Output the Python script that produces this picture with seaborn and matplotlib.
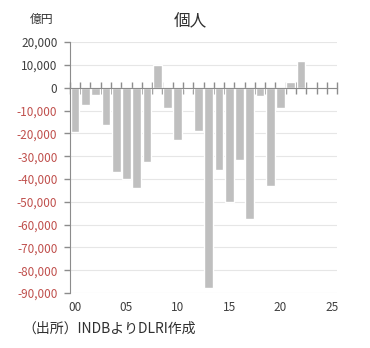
import numpy as np
import pandas as pd
import matplotlib
matplotlib.use("Agg")
import matplotlib.pyplot as plt
import seaborn as sns

# ---- data ----
years = list(range(2000, 2026))
values = [-19500, -7500, -3100, -16500, -36800, -40000, -43800, -32500,
          9800, -8800, -22700, -400, -18800, -88000, -36000, -50000,
          -31500, -57500, -3600, -43000, -8800, 2700, 11900,
          np.nan, np.nan, np.nan]
xtick_years = [0, 5, 10, 15, 20, 25]
xtick_labels = ["00", "05", "10", "15", "20", "25"]
yticks = list(range(-90000, 20001, 10000))
title = "個人"
unit = "億円"
source = "（出所）INDBよりDLRI作成"

sns.set_style("white")
plt.rcParams["font.family"] = ["Noto Sans CJK JP", "DejaVu Sans"]

df = pd.DataFrame({"year": years, "value": values})

fig = plt.figure(figsize=(3.7, 3.48), dpi=100)
ax = fig.add_axes([0.189, 0.158, 0.722, 0.721])

sns.barplot(data=df, x="year", y="value", order=years, color="#BFBFBF",
            saturation=1, width=0.85, errorbar=None, ax=ax, zorder=2)

axis_grey = "#8C8C8C"
ax.set_xlim(-0.5, len(years) - 0.5)
ax.set_ylim(-90000, 20000)
ax.set_xlabel("")
ax.set_ylabel("")

# y axis
ax.set_yticks(yticks)
ax.set_yticklabels([f"{v:,}" for v in yticks])
for lab, v in zip(ax.get_yticklabels(), yticks):
    lab.set_color("#C0504D" if v < 0 else "#404040")
ax.tick_params(axis="y", left=True, direction="out", length=4, width=1,
               color=axis_grey, labelsize=8.5, pad=5)
ax.yaxis.grid(True, color="#E6E6E6", lw=0.8)
ax.set_axisbelow(True)

# zero line with crossing category-boundary ticks
ax.spines["bottom"].set_position(("data", 0))
ax.spines["bottom"].set_color(axis_grey)
ax.spines["bottom"].set_zorder(3)
ax.spines["left"].set_color(axis_grey)
ax.spines["top"].set_visible(False)
ax.spines["right"].set_visible(False)
ax.set_xticks([])
ax.set_xticks(np.arange(-0.5, len(years)), minor=True)
ax.tick_params(axis="x", which="minor", bottom=True, direction="inout",
               length=9, width=1, color=axis_grey, labelbottom=False)

# bottom labels
sec = ax.secondary_xaxis("bottom")
sec.set_xticks(xtick_years)
sec.set_xticklabels(xtick_labels)
sec.tick_params(length=0, labelsize=8.5, labelcolor="#404040", pad=6)
sec.spines["bottom"].set_visible(False)

fig.text(190 / 370, 1 - 22 / 348, title, ha="center", va="center",
         fontsize=12, color="#303030")
fig.text(42 / 370, 1 - 19 / 348, unit, ha="center", va="center",
         fontsize=8.5, color="#303030")
fig.text(22 / 370, 1 - 329 / 348, source, ha="left", va="center",
         fontsize=10, color="#303030")

fig.savefig("out.png", dpi=100)
